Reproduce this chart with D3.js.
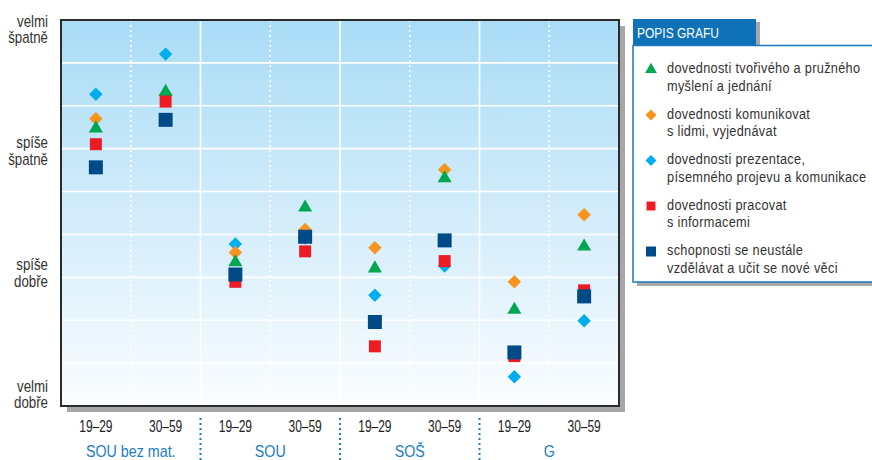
<!DOCTYPE html>
<html>
<head>
<meta charset="utf-8">
<script src="https://cdn.jsdelivr.net/npm/d3@7/dist/d3.min.js"></script>
<style>
  html, body { margin: 0; padding: 0; background: #fff; }
  svg { display: block; }
  text { font-family: "Liberation Sans", Arial, sans-serif; }
</style>
</head>
<body>
<svg id="chart" width="872" height="460"></svg>
<script>
// Skupiny škol a věkové kategorie
const groups = ["SOU bez mat.", "SOU", "SOŠ", "G"];
const ages = ["19–29", "30–59"];

// Hodnocení: 1 = velmi dobře … 4 = velmi špatně
const scaleLabels = [
  { v: 4, lines: ["velmi", "špatně"] },
  { v: 3, lines: ["spíše", "špatně"] },
  { v: 2, lines: ["spíše", "dobře"] },
  { v: 1, lines: ["velmi", "dobře"] }
];

// Hodnoty pro 8 sloupců (skupina × věk)
const tvorive      = [3.18, 3.48, 2.08, 2.53, 2.03, 2.77, 1.69, 2.21];
const komunikovat  = [3.26, 3.46, 2.16, 2.35, 2.20, 2.84, 1.92, 2.47];
const prezentace   = [3.46, 3.79, 2.23, 2.28, 1.81, 2.05, 1.14, 1.60];
const informace    = [3.05, 3.40, 1.92, 2.17, 1.39, 2.09, 1.31, 1.85];
const vzdelavani   = [2.86, 3.25, 1.98, 2.29, 1.59, 2.26, 1.34, 1.80];

const legendTexts = [
  ["dovednosti tvořivého a pružného", "myšlení a jednání"],
  ["dovednosti komunikovat", "s lidmi, vyjednávat"],
  ["dovednosti prezentace,", "písemného projevu a komunikace"],
  ["dovednosti pracovat", "s informacemi"],
  ["schopnosti se neustále", "vzdělávat a učit se nové věci"]
];

// Vlastní tvar: kosočtverec (otočený čtverec)
const symbolRhombus = {
  draw(ctx, size) {
    const r = Math.sqrt(size / 2);
    ctx.moveTo(0, -r); ctx.lineTo(r, 0); ctx.lineTo(0, r); ctx.lineTo(-r, 0); ctx.closePath();
  }
};

const series = [
  { name: legendTexts[0], values: tvorive,     color: "#00a651", type: d3.symbolTriangle, size: 85,  order: 2 },
  { name: legendTexts[1], values: komunikovat, color: "#f7941d", type: symbolRhombus,     size: 90,  order: 1 },
  { name: legendTexts[2], values: prezentace,  color: "#00aeef", type: symbolRhombus,     size: 90,  order: 0 },
  { name: legendTexts[3], values: informace,   color: "#ed1c24", type: d3.symbolSquare,   size: 144, order: 3 },
  { name: legendTexts[4], values: vzdelavani,  color: "#004b87", type: d3.symbolSquare,   size: 196, order: 4 }
];

const columns = [];
groups.forEach(g => ages.forEach(a => columns.push({ key: g + "|" + a, group: g, age: a })));

const svg = d3.select("#chart");
const plot = { left: 61, right: 619, top: 20, bottom: 406 };

const x = d3.scaleBand().domain(columns.map(c => c.key)).range([plot.left, plot.right]);
const y = d3.scaleLinear().domain([0.9, 4.07]).range([plot.bottom, plot.top]);

// Zúžené písmo: text vodorovně stlačený
function condText(parent, px, py, sx) {
  return parent.append("text").attr("transform", `translate(${px},${py}) scale(${sx},1)`);
}

// Pozadí s přechodem a stínem
const defs = svg.append("defs");
const grad = defs.append("linearGradient").attr("id", "bg").attr("x1", 0).attr("y1", 0).attr("x2", 0).attr("y2", 1);
grad.append("stop").attr("offset", "0%").attr("stop-color", "#a9dcf6");
grad.append("stop").attr("offset", "100%").attr("stop-color", "#fbfdff");

svg.append("rect")
  .attr("x", plot.left + 6).attr("y", plot.top + 6)
  .attr("width", plot.right - plot.left).attr("height", plot.bottom - plot.top)
  .attr("fill", "#a7a7a9");
svg.append("rect")
  .attr("x", plot.left).attr("y", plot.top)
  .attr("width", plot.right - plot.left).attr("height", plot.bottom - plot.top)
  .attr("fill", "url(#bg)");

// Vodorovná mřížka: 9 stejných pásů
const yd = y.domain();
const gridVals = d3.range(1, 9).map(i => yd[0] + (yd[1] - yd[0]) * i / 9);
svg.append("g").selectAll("line").data(gridVals).join("line")
  .attr("x1", plot.left).attr("x2", plot.right)
  .attr("y1", d => y(d)).attr("y2", d => y(d))
  .attr("stroke", "#fff").attr("stroke-width", 1.6);

// Svislé čáry: plné mezi skupinami, tečkované mezi věkovými kategoriemi
const bounds = columns.slice(1).map((c, i) => ({ x: x(c.key), solid: (i + 1) % 2 === 0 }));
svg.append("g").selectAll("line").data(bounds).join("line")
  .attr("x1", d => d.x).attr("x2", d => d.x)
  .attr("y1", plot.top).attr("y2", plot.bottom)
  .attr("stroke", "#fff")
  .attr("stroke-width", 1.6)
  .attr("stroke-dasharray", d => d.solid ? null : "2,3");

// Rámeček
svg.append("path")
  .attr("d", `M${plot.left},${plot.bottom}V${plot.top}H${plot.right}V${plot.bottom}Z`)
  .attr("fill", "none").attr("stroke", "#2b2b2b").attr("stroke-width", 2);

// Body
const drawOrder = series.slice().sort((a, b) => a.order - b.order);
drawOrder.forEach(s => {
  const sym = d3.symbol().type(s.type).size(s.size);
  svg.append("g").selectAll("path").data(s.values).join("path")
    .attr("d", sym)
    .attr("transform", (d, i) => `translate(${x(columns[i].key) + x.bandwidth() / 2},${y(d)})`)
    .attr("fill", s.color);
});

// Popisky osy Y
const yl = svg.append("g").attr("fill", "#333").attr("font-size", 16).attr("text-anchor", "end");
scaleLabels.forEach(l => {
  const t = condText(yl, 48, y(l.v), 0.83);
  t.append("tspan").attr("x", 0).attr("y", -2).text(l.lines[0]);
  t.append("tspan").attr("x", 0).attr("y", 14.5).text(l.lines[1]);
});

// Popisky osy X: věk
const xl = svg.append("g").attr("fill", "#222").attr("font-size", 16).attr("text-anchor", "middle");
columns.forEach(c => {
  condText(xl, x(c.key) + x.bandwidth() / 2, 431.5, 0.75).text(c.age);
});

// Popisky skupin
const gl = svg.append("g").attr("fill", "#1b7cc2").attr("font-size", 17).attr("text-anchor", "middle");
groups.forEach(g => {
  const cx = (x(g + "|" + ages[0]) + x(g + "|" + ages[1]) + x.bandwidth()) / 2;
  condText(gl, cx, 457, 0.84).text(g);
});

// Modré tečkované oddělovače skupin pod osou
svg.append("g").selectAll("line").data(groups.slice(1)).join("line")
  .attr("x1", g => x(g + "|" + ages[0])).attr("x2", g => x(g + "|" + ages[0]))
  .attr("y1", 418).attr("y2", 460)
  .attr("stroke", "#1b7cc2").attr("stroke-width", 2).attr("stroke-dasharray", "2,3");

// Legenda
const lg = svg.append("g");
const lx = 633, boxTop = 45.5, boxBottom = 282;
lg.append("rect").attr("x", lx + 4).attr("y", boxTop + 4).attr("width", 300).attr("height", boxBottom - boxTop).attr("fill", "#a7a7a9");
lg.append("rect").attr("x", lx + 4).attr("y", 22).attr("width", 123).attr("height", 24).attr("fill", "#a7a7a9");
lg.append("rect").attr("x", lx).attr("y", 19).attr("width", 123).attr("height", 27).attr("fill", "#0f71b8");
lg.append("rect").attr("x", lx).attr("y", boxTop).attr("width", 300).attr("height", boxBottom - boxTop)
  .attr("fill", "#fff").attr("stroke", "#1a78c0").attr("stroke-width", 1.5);
condText(lg, lx + 4, 37.5, 0.8).attr("fill", "#fff").attr("font-size", 15).text("POPIS GRAFU");

const legendSymSize = [60, 60, 60, 80, 100];
series.forEach((s, i) => {
  const cy = 68 + i * 45.5;
  lg.append("path")
    .attr("d", d3.symbol().type(s.type).size(legendSymSize[i]))
    .attr("transform", `translate(651,${cy + 1.5})`)
    .attr("fill", s.color);
  const t = condText(lg, 667, cy, 0.85).attr("font-size", 15).attr("fill", "#333").attr("letter-spacing", 0.35);
  t.append("tspan").attr("x", 0).attr("y", 5).text(s.name[0]);
  t.append("tspan").attr("x", 0).attr("y", 23).text(s.name[1]);
});
</script>
</body>
</html>
